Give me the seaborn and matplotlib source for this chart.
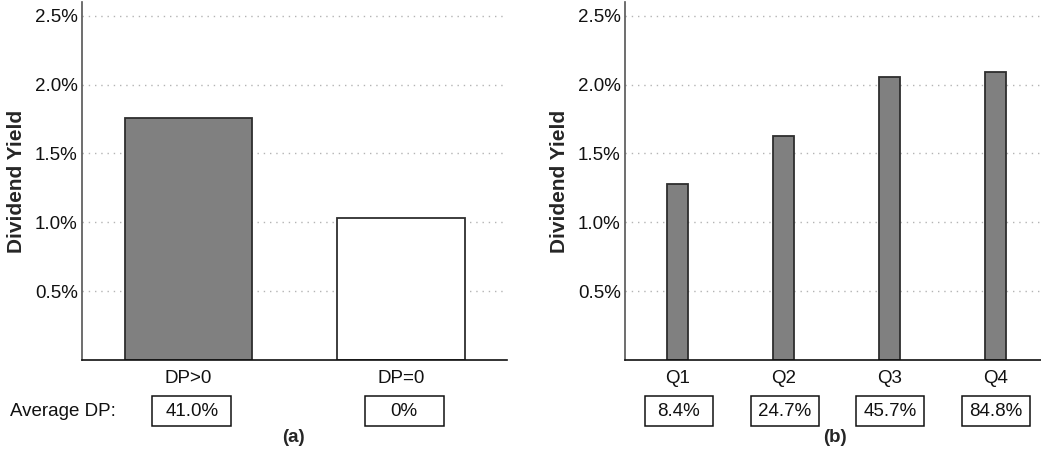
import matplotlib
matplotlib.use("Agg")
import matplotlib.pyplot as plt
import matplotlib.transforms as mtransforms
from matplotlib.patches import Rectangle
import seaborn as sns
import pandas as pd

# ---- data ----
cats_a = ["DP>0", "DP=0"]
yield_a = [1.76, 1.03]
avg_dp_a = ["41.0%", "0%"]

cats_b = ["Q1", "Q2", "Q3", "Q4"]
yield_b = [1.28, 1.625, 2.055, 2.093]
avg_dp_b = ["8.4%", "24.7%", "45.7%", "84.8%"]

yticks = [0.5, 1.0, 1.5, 2.0, 2.5]

sns.set_style("white")
plt.rcParams["font.family"] = ["Liberation Sans", "DejaVu Sans"]

FS = 13.5
fig = plt.figure(figsize=(10.41, 4.51), dpi=100)
W, H = 1041, 451
ax_a = fig.add_axes([82 / W, 1 - 360 / H, (507 - 82) / W, 358 / H])
ax_b = fig.add_axes([625 / W, 1 - 360 / H, (1048 - 625) / W, 358 / H])

edge = "#2e2e2e"


def style_axis(ax, ncat):
    ax.set_ylim(0, 2.6)
    ax.set_xlim(-0.5, ncat - 0.5)
    ax.set_yticks(yticks)
    ax.set_yticklabels([f"{v:.1f}%" for v in yticks])
    ax.tick_params(axis="both", length=0, labelsize=FS, colors="#111111")
    ax.tick_params(axis="y", pad=3)
    ax.tick_params(axis="x", pad=7)
    ax.set_axisbelow(True)
    ax.yaxis.grid(True, linestyle=(0, (1, 3.5)), color="#b4b4b4", linewidth=1.0)
    ax.xaxis.grid(False)
    for s in ["top", "right"]:
        ax.spines[s].set_visible(False)
    ax.spines["left"].set_color("#555555")
    ax.spines["bottom"].set_color("#111111")
    ax.spines["left"].set_linewidth(1.2)
    ax.spines["bottom"].set_linewidth(1.2)
    ax.set_xlabel("")
    ax.set_ylabel("Dividend Yield", fontsize=15, fontweight="bold")


df_a = pd.DataFrame({"cat": cats_a, "y": yield_a})
sns.barplot(data=df_a, x="cat", y="y", hue="cat", palette=["#808080", "#ffffff"],
            legend=False, width=0.6, edgecolor=edge, linewidth=1.3, ax=ax_a,
            saturation=1)
style_axis(ax_a, len(cats_a))

df_b = pd.DataFrame({"cat": cats_b, "y": yield_b})
sns.barplot(data=df_b, x="cat", y="y", color="#808080", width=0.2,
            edgecolor=edge, linewidth=1.3, ax=ax_b, saturation=1)
style_axis(ax_b, len(cats_b))

ax_a.yaxis.set_label_coords((26 - 82) / 425, 0.5)
ax_b.yaxis.set_label_coords((569 - 625) / 423, 0.5)


def boxes(ax, labels, wdata, dx):
    trans = mtransforms.blended_transform_factory(ax.transData, ax.transAxes)
    y0 = (360 - 426) / 358
    h = 30 / 358
    for i, lab in enumerate(labels):
        xc = i + dx
        ax.add_patch(Rectangle((xc - wdata / 2, y0), wdata, h, transform=trans,
                               facecolor="white", edgecolor="#111111",
                               linewidth=1.1, clip_on=False))
        ax.text(xc, y0 + h / 2, lab, transform=trans, ha="center", va="center",
                fontsize=FS, color="#111111", clip_on=False)


boxes(ax_a, avg_dp_a, 79 / 212, 3.5 / 212)
boxes(ax_b, avg_dp_b, 68 / 106, 1 / 106)

fig.text(10 / W, 1 - 411 / H, "Average DP:", ha="left", va="center",
         fontsize=FS, color="#111111")
fig.text(293 / W, 1 - 437 / H, "(a)", ha="center", va="center",
         fontsize=FS, fontweight="bold")
fig.text(835 / W, 1 - 437 / H, "(b)", ha="center", va="center",
         fontsize=FS, fontweight="bold")

fig.savefig("out.png", dpi=100)
